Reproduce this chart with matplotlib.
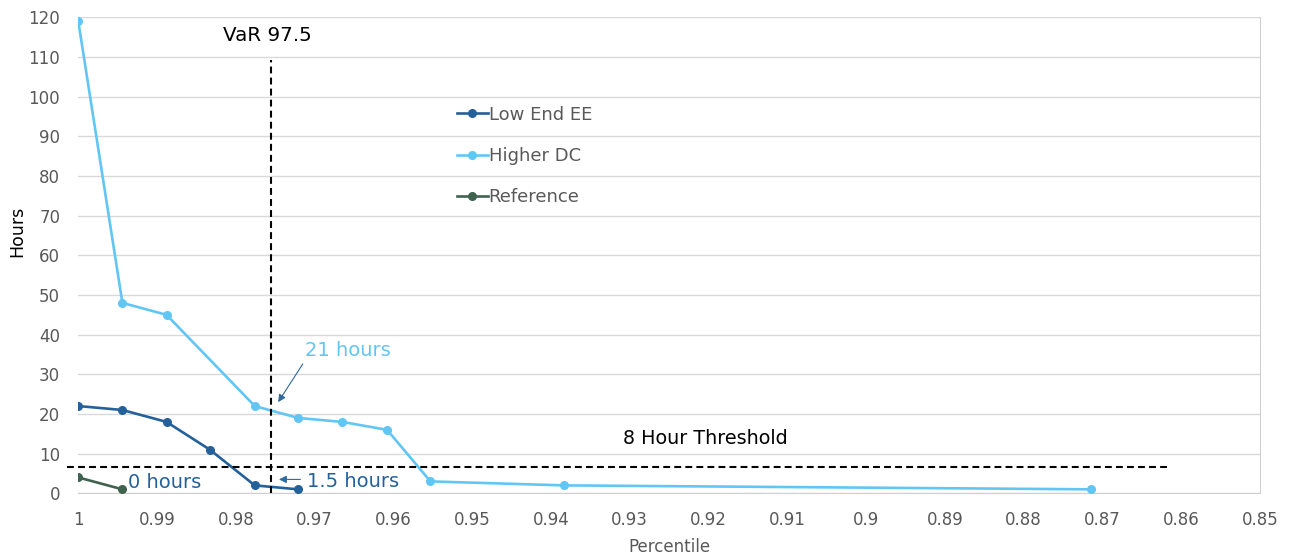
import matplotlib
matplotlib.use("Agg")
import matplotlib.pyplot as plt

# ---- data ----
low_x = [1.0, 0.9944, 0.9888, 0.9833, 0.9776, 0.9721]
low_y = [22, 21, 18, 11, 2, 1]
high_x = [1.0, 0.9944, 0.9888, 0.9776, 0.9721, 0.9665, 0.9608, 0.9553, 0.9384, 0.8714]
high_y = [119, 48, 45, 22, 19, 18, 16, 3, 2, 1]
ref_x = [1.0, 0.9944]
ref_y = [4, 1]
series_names = ["Low End EE", "Higher DC", "Reference"]
var_x = 0.9755
threshold_y = 6.6
x_ticks = [1, 0.99, 0.98, 0.97, 0.96, 0.95, 0.94, 0.93, 0.92, 0.91, 0.9, 0.89, 0.88, 0.87, 0.86, 0.85]
y_ticks = list(range(0, 121, 10))

c_low = "#24619A"
c_high = "#62C6F5"
c_ref = "#3F634F"
grey = "#595959"

plt.rcParams['font.family'] = ['DejaVu Sans']
fig = plt.figure(figsize=(12.94, 5.6), dpi=100)
ax = fig.add_axes([0.0605, 0.1191, 0.9737 - 0.0605, 0.9691 - 0.1191])

ax.plot(low_x, low_y, color=c_low, lw=1.9, marker='o', ms=5.5, label=series_names[0], zorder=4)
ax.plot(high_x, high_y, color=c_high, lw=1.9, marker='o', ms=5.5, label=series_names[1], zorder=4)
ax.plot(ref_x, ref_y, color=c_ref, lw=1.9, marker='o', ms=5.5, label=series_names[2], zorder=4)

ax.set_xlim(1.0, 0.85)
ax.set_ylim(0, 120)
ax.set_xticks(x_ticks)
ax.set_xticklabels([f"{t:g}" for t in x_ticks])
ax.set_yticks(y_ticks)
ax.tick_params(axis='both', length=0, labelsize=12, labelcolor=grey)
ax.tick_params(axis='x', pad=13)
ax.tick_params(axis='y', pad=13)
ax.grid(axis='y', color='#D9D9D9', lw=1)
ax.set_axisbelow(True)
for s in ['top', 'left']:
    ax.spines[s].set_visible(False)
ax.spines['right'].set_color('#D0D0D0')
ax.spines['bottom'].set_color('#D0D0D0')

ax.set_ylabel("Hours", fontsize=12.5, color='black')
ax.yaxis.set_label_coords(-0.044, 0.55)
ax.set_xlabel("Percentile", fontsize=12, color=grey, labelpad=6.5)

# reference lines
ax.plot([var_x, var_x], [0, 109.2], color='black', lw=1.5, ls=(0, (3.3, 2)), zorder=5)
ax.plot([1.00147, 0.86168], [threshold_y, threshold_y], color='black', lw=1.5,
        ls=(0, (3.3, 2)), zorder=5, clip_on=False)

# texts
ax.text(0.97605, 115.5, "VaR 97.5", fontsize=14.3, color='black', ha='center', va='center', clip_on=False)
ax.text(0.92045, 13.9, "8 Hour Threshold", fontsize=13.8, color='black', ha='center', va='center')
ax.text(0.9712, 35.9, "21 hours", fontsize=14, color=c_high, ha='left', va='center')
ax.text(0.9937, 2.7, "0 hours", fontsize=14, color=c_low, ha='left', va='center')
ax.text(0.9710, 3.0, "1.5 hours", fontsize=14, color=c_low, ha='left', va='center')
ax.annotate("", xy=(0.97482, 22.4), xytext=(0.97131, 33.2),
            arrowprops=dict(arrowstyle='-|>', color='#2E6A9E', lw=0.8, mutation_scale=11))
ax.annotate("", xy=(0.97488, 3.5), xytext=(0.97145, 3.5),
            arrowprops=dict(arrowstyle='-|>', color='#2E6A9E', lw=0.8, mutation_scale=11))

leg = ax.legend(loc='center left', bbox_to_anchor=(457 / 1294, 1 - 156 / 560),
                bbox_transform=fig.transFigure, frameon=False, fontsize=13,
                labelspacing=1.3, handlelength=1.7, handletextpad=0.05,
                borderpad=0, borderaxespad=0)
for t in leg.get_texts():
    t.set_color(grey)

fig.savefig("out.png", dpi=100)
